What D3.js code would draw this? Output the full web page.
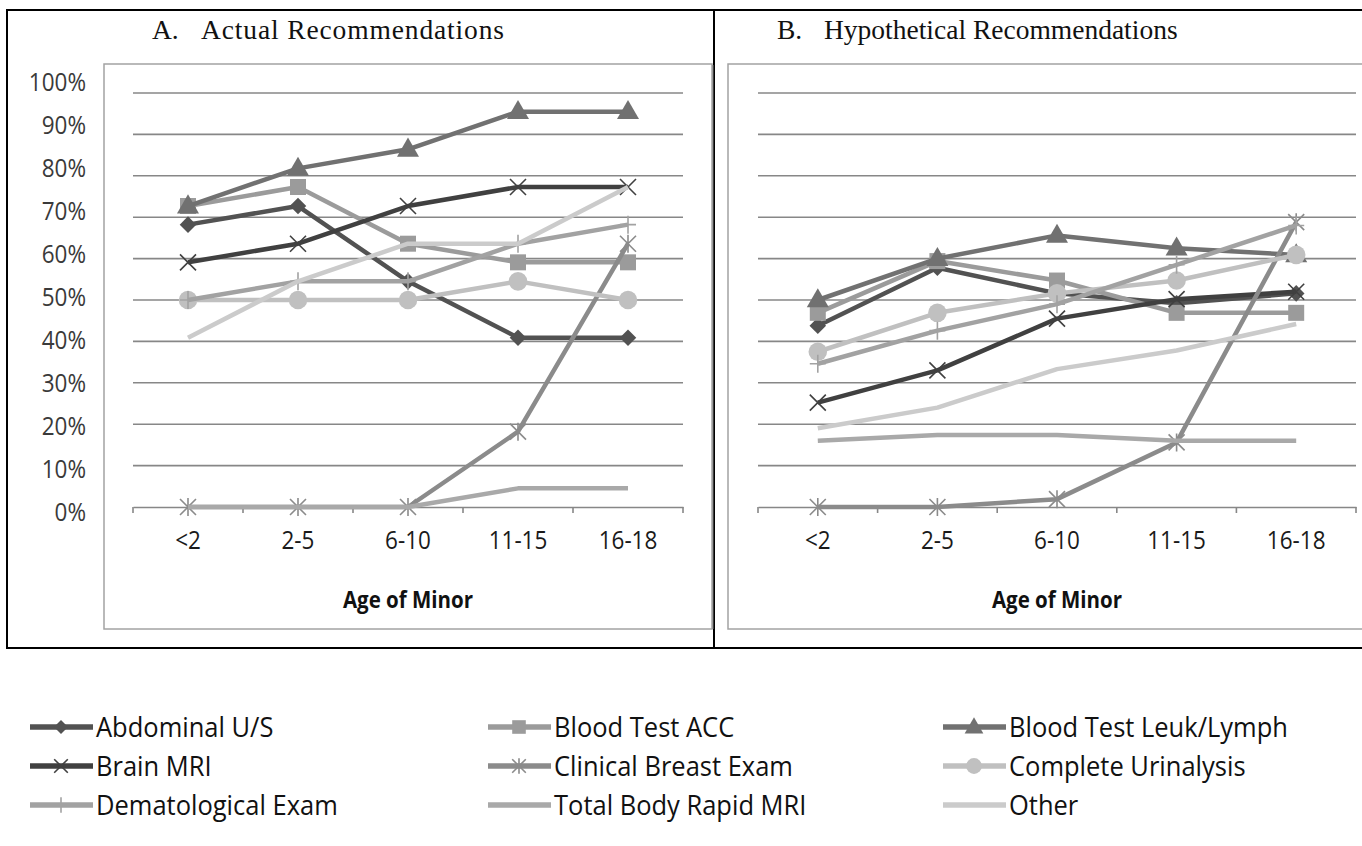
<!DOCTYPE html>
<html>
<head>
<meta charset="utf-8">
<script src="https://cdn.jsdelivr.net/npm/d3@7"></script>
<style>
  html, body { margin: 0; padding: 0; background: #ffffff; }
  svg { display: block; }
</style>
</head>
<body>
<svg id="chart" width="1362" height="846"></svg>
<script>
// ---- data -------------------------------------------------------------
const ages = ["<2", "2-5", "6-10", "11-15", "16-18"];

const seriesNames = [
  "Abdominal U/S", "Blood Test ACC", "Blood Test Leuk/Lymph",
  "Brain MRI", "Clinical Breast Exam", "Complete Urinalysis",
  "Dematological Exam", "Total Body Rapid MRI", "Other"
];

// Panel A: actual recommendations (% of respondents)
const actualAbdominal   = [68.2, 72.7, 54.5, 40.9, 40.9];
const actualBloodACC    = [72.7, 77.3, 63.6, 59.1, 59.1];
const actualLeukLymph   = [72.7, 81.8, 86.4, 95.5, 95.5];
const actualBrainMRI    = [59.1, 63.6, 72.7, 77.3, 77.3];
const actualBreastExam  = [0, 0, 0, 18.2, 63.6];
const actualUrinalysis  = [50.0, 50.0, 50.0, 54.5, 50.0];
const actualDermExam    = [50.0, 54.5, 54.5, 63.6, 68.2];
const actualTotalBody   = [0, 0, 0, 4.5, 4.5];
const actualOther       = [40.9, 54.5, 63.6, 63.6, 77.3];

// Panel B: hypothetical recommendations (% of respondents)
const hypoAbdominal     = [43.8, 57.8, 51.6, 49.2, 51.6];
const hypoBloodACC      = [46.9, 59.4, 54.7, 46.9, 46.9];
const hypoLeukLymph     = [50.0, 60.0, 65.6, 62.5, 60.9];
const hypoBrainMRI      = [25.2, 33.0, 45.5, 50.2, 52.0];
const hypoBreastExam    = [0, 0, 1.9, 15.6, 68.8];
const hypoUrinalysis    = [37.5, 46.9, 51.6, 54.7, 60.9];
const hypoDermExam      = [34.6, 42.6, 49.0, 58.5, 68.0];
const hypoTotalBody     = [16.0, 17.4, 17.4, 16.0, 16.0];
const hypoOther         = [19.0, 24.0, 33.3, 37.8, 44.2];

const yTickValues = [0, 10, 20, 30, 40, 50, 60, 70, 80, 90, 100];

// ---- styling per series ---------------------------------------------
const seriesColors = ["#525252", "#9b9b9b", "#717171", "#404040", "#8b8b8b",
                      "#c0c0c0", "#a2a2a2", "#a9a9a9", "#cbcbcb"];
const seriesMarkers = ["diamond", "square", "triangle", "x", "star",
                       "circle", "plus", "none", "none"];

const actualSeries = [actualAbdominal, actualBloodACC, actualLeukLymph, actualBrainMRI,
  actualBreastExam, actualUrinalysis, actualDermExam, actualTotalBody, actualOther];
const hypoSeries = [hypoAbdominal, hypoBloodACC, hypoLeukLymph, hypoBrainMRI,
  hypoBreastExam, hypoUrinalysis, hypoDermExam, hypoTotalBody, hypoOther];

const svg = d3.select("#chart");
const TEXT_STRETCH = "scale(1,1.1)";

// ---- outer frame ------------------------------------------------------
svg.append("rect")
  .attr("x", 7).attr("y", 10).attr("width", 1370).attr("height", 638)
  .attr("fill", "none").attr("stroke", "#000").attr("stroke-width", 2);
svg.append("line")
  .attr("x1", 714).attr("x2", 714).attr("y1", 10).attr("y2", 648)
  .attr("stroke", "#000").attr("stroke-width", 2);

// ---- marker drawing -------------------------------------------------
function drawMarker(g, type, x, y, color, s) {
  const k = s || 1;
  if (type === "none") return;
  if (type === "diamond") {
    g.append("path").attr("d", d3.symbol(d3.symbolDiamond2, 175 * k * k)())
      .attr("transform", `translate(${x},${y})`).attr("fill", color);
    return;
  }
  if (type === "square") {
    g.append("path").attr("d", d3.symbol(d3.symbolSquare, 256 * k * k)())
      .attr("transform", `translate(${x},${y})`).attr("fill", color);
    return;
  }
  if (type === "triangle") {
    g.append("path").attr("d", d3.symbol(d3.symbolTriangle, 210 * k * k)())
      .attr("transform", `translate(${x},${y + 1})`).attr("fill", color);
    return;
  }
  if (type === "circle") {
    g.append("path").attr("d", d3.symbol(d3.symbolCircle, 270 * k * k)())
      .attr("transform", `translate(${x},${y})`).attr("fill", color);
    return;
  }
  const h = 8 * k;
  const p = d3.path();
  if (type === "x" || type === "star") {
    p.moveTo(-h, -h); p.lineTo(h, h);
    p.moveTo(-h, h);  p.lineTo(h, -h);
  }
  if (type === "star" || type === "plus") {
    p.moveTo(0, -h - 1); p.lineTo(0, h + 1);
  }
  if (type === "plus") {
    p.moveTo(-h, 0); p.lineTo(h, 0);
  }
  g.append("path").attr("d", p.toString())
    .attr("transform", `translate(${x},${y})`)
    .attr("fill", "none").attr("stroke", color).attr("stroke-width", 1.6);
}

// ---- one panel --------------------------------------------------------
function drawPanel(opts) {
  const g = svg.append("g");
  const { box, x0, x1, values, title } = opts;

  // plot-area frame
  g.append("rect")
    .attr("x", box.x).attr("y", box.y).attr("width", box.w).attr("height", box.h)
    .attr("fill", "#fff").attr("stroke", "#a3a3a3").attr("stroke-width", 1.5);
  g.append("line")
    .attr("x1", box.x + box.w + 1).attr("x2", box.x + box.w + 1)
    .attr("y1", box.y + 1).attr("y2", box.y + box.h)
    .attr("stroke", "#7a7a7a").attr("stroke-width", 1);

  const x = d3.scaleBand().domain(ages).range([x0, x1]).paddingInner(0).paddingOuter(0);
  const y = d3.scaleLinear().domain([0, 100]).range([507, 93]);
  const cx = d => x(d) + x.bandwidth() / 2;

  // horizontal gridlines
  g.append("g").selectAll("line")
    .data(yTickValues.filter(v => v > 0))
    .join("line")
    .attr("x1", x0).attr("x2", x1)
    .attr("y1", d => y(d)).attr("y2", d => y(d))
    .attr("stroke", "#878787").attr("stroke-width", 1.6);

  // category axis with boundary ticks
  const axisG = g.append("g").attr("transform", `translate(0,${y(0)})`)
    .call(d3.axisBottom(x).tickSize(0).tickPadding(20));
  axisG.select(".domain").attr("stroke", "#878787").attr("stroke-width", 1.6);
  axisG.selectAll(".tick text")
    .attr("font-family", "'Open Sans', sans-serif").attr("font-size", 22.5)
    .attr("fill", "#1a1a1a").attr("dy", "0.3em").attr("y", 31)
    .attr("transform", TEXT_STRETCH);
  const edges = ages.map(a => x(a)).concat([x1]);
  g.append("g").selectAll("line").data(edges).join("line")
    .attr("x1", d => d).attr("x2", d => d)
    .attr("y1", y(0)).attr("y2", y(0) + 6)
    .attr("stroke", "#878787").attr("stroke-width", 1.6);

  // axis title
  g.append("text")
    .attr("transform", `translate(${(x0 + x1) / 2},608) ${TEXT_STRETCH}`)
    .attr("text-anchor", "middle")
    .attr("font-family", "'Open Sans', sans-serif").attr("font-weight", 700)
    .attr("font-size", 20.5).attr("fill", "#111")
    .text("Age of Minor");

  // panel title
  g.append("text")
    .attr("transform", `translate(${title.x},39)`)
    .attr("font-family", "'Liberation Serif', 'Times New Roman', serif")
    .attr("font-size", 27.5).attr("fill", "#111")
    .text(title.letter);
  const tt = g.append("text")
    .attr("transform", `translate(${title.x + title.gap},39)`)
    .attr("font-family", "'Liberation Serif', 'Times New Roman', serif")
    .attr("font-size", 27.5).attr("fill", "#111")
    .text(title.text);
  if (title.width) tt.attr("textLength", title.width).attr("lengthAdjust", "spacing");

  // series lines and markers
  const line = d3.line().x((d, i) => cx(ages[i])).y(d => y(d));
  values.forEach((vals, si) => {
    const sg = g.append("g");
    sg.append("path").datum(vals).attr("d", line)
      .attr("fill", "none").attr("stroke", seriesColors[si])
      .attr("stroke-width", 4.5).attr("stroke-linejoin", "round");
    vals.forEach((v, i) => drawMarker(sg, seriesMarkers[si], cx(ages[i]), y(v), seriesColors[si]));
  });
  return { x, y };
}

drawPanel({
  box: { x: 104, y: 64, w: 608, h: 565 },
  x0: 133, x1: 683,
  values: actualSeries,
  title: { x: 152, gap: 49, width: 303, letter: "A.", text: "Actual Recommendations" }
});
drawPanel({
  box: { x: 728, y: 64, w: 700, h: 565 },
  x0: 758, x1: 1356,
  values: hypoSeries,
  title: { x: 777, gap: 47, width: 0, letter: "B.", text: "Hypothetical Recommendations" }
});

// percentage labels on the left of panel A
const yLabel = d3.scaleLinear().domain([0, 100]).range([513, 83]);
const yAxisG = svg.append("g").attr("transform", "translate(86,0)")
  .call(d3.axisLeft(yLabel).tickValues(yTickValues).tickSize(0).tickPadding(0)
    .tickFormat(d => d + "%"));
yAxisG.select(".domain").remove();
yAxisG.selectAll(".tick text")
  .attr("font-family", "'Open Sans', sans-serif").attr("font-size", 22.5)
  .attr("fill", "#3a3a3a").attr("dy", "0.32em").attr("transform", TEXT_STRETCH);

// ---- legend -----------------------------------------------------------
const legendCols = [30, 488, 943];
const legendRows = [727, 766, 805];
const legend = svg.append("g");
seriesNames.forEach((name, i) => {
  const lx = legendCols[i % 3];
  const ly = legendRows[Math.floor(i / 3)];
  const lg = legend.append("g");
  lg.append("line").attr("x1", lx).attr("x2", lx + 63).attr("y1", ly).attr("y2", ly)
    .attr("stroke", seriesColors[i]).attr("stroke-width", 5.5);
  drawMarker(lg, seriesMarkers[i], lx + 31, ly, seriesColors[i], 0.85);
  lg.append("text")
    .attr("transform", `translate(${lx + 66},${ly}) ${TEXT_STRETCH}`)
    .attr("dy", "0.36em")
    .attr("font-family", "'Open Sans', sans-serif").attr("font-size", 25.5)
    .attr("fill", "#111")
    .text(name);
});
</script>
</body>
</html>
